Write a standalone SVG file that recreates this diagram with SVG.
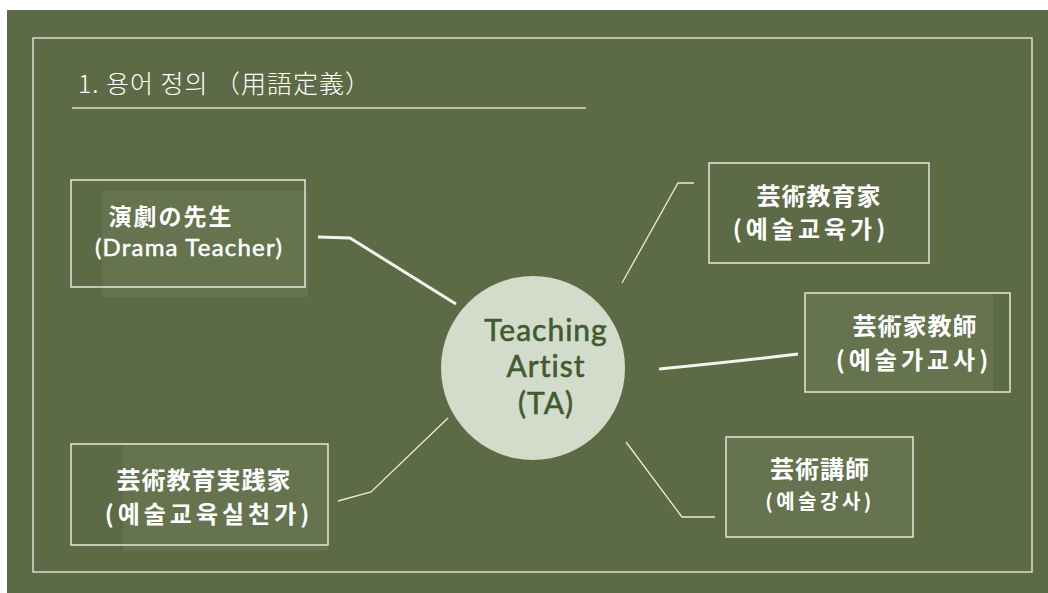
<svg xmlns="http://www.w3.org/2000/svg" width="1048" height="593" viewBox="0 0 1048 593">
<style>
.frame{fill:none;stroke:#d9dcd2;stroke-width:1.5}
.box{fill:none;stroke:#e4e6de;stroke-width:1.5}
.inner{fill:#65734f}
.lbl{font-family:"Noto Sans CJK JP","Noto Sans CJK KR",sans-serif;font-weight:700;fill:#ffffff;text-anchor:middle}
.en{font-family:Lato,"Noto Sans",sans-serif;font-weight:400;fill:#ffffff;text-anchor:middle}
.ko{letter-spacing:4px;font-size:24px}
.thin{fill:none;stroke:#e8eae0;stroke-width:1.3}
.thick{fill:none;stroke:#f4f4ec;stroke-width:3}
</style>
<rect x="0" y="0" width="1048" height="593" fill="#ffffff"/>
<rect x="7" y="10" width="1041" height="583" fill="#5d6a46"/>
<rect class="frame" x="33" y="38" width="999" height="534"/>
<g id="title">
<text x="78" y="93" font-family="Noto Sans CJK KR, sans-serif" font-weight="300" font-size="25" fill="#ffffff" textLength="292">1. 용어 정의 （用語定義）</text>
<line x1="72" y1="108" x2="586" y2="108" stroke="#d9dcd2" stroke-width="1.5"/>
</g>
<g id="connectors">
<polyline class="thick" points="318,237 350,238 456,304"/>
<polyline class="thin" points="622,283 678,183 694,183"/>
<path class="thick" d="M659,369 Q740,361 798,354"/>
<polyline class="thin" points="626,442 682,517 715,517"/>
<polyline class="thin" points="338,501 371,492 448,418"/>
</g>
<g id="center">
<circle cx="533" cy="368" r="92" fill="#d3dbcb"/>
<g font-family="Lato, sans-serif" font-size="30" letter-spacing="1" fill="#3f5c30" stroke="#3f5c30" stroke-width="0.6" text-anchor="middle">
<text x="546" y="341">Teaching</text>
<text x="546" y="377">Artist</text>
<text x="546" y="414">(TA)</text>
</g>
</g>
<g id="node-drama">
<rect class="inner" x="102" y="191" width="206" height="106"/>
<rect class="box" x="71" y="180" width="234" height="107"/>
<text class="lbl" x="171" y="225" font-size="23" letter-spacing="2">演劇の先生</text>
<text class="en" x="189" y="256" font-size="24" letter-spacing="1.2" stroke="#ffffff" stroke-width="0.5">(Drama Teacher)</text>
</g>
<g id="node-educator">
<rect class="box" x="709" y="163" width="220" height="100"/>
<text class="lbl" x="819" y="205" font-size="24" letter-spacing="1">芸術教育家</text>
<text class="lbl ko" x="811" y="238">(예술교육가)</text>
</g>
<g id="node-artist-teacher">
<rect class="inner" x="805" y="293" width="188" height="99"/>
<rect class="box" x="805" y="293" width="205" height="99"/>
<text class="lbl" x="915" y="335" font-size="24" letter-spacing="1">芸術家教師</text>
<text class="lbl ko" x="914" y="369">(예술가교사)</text>
</g>
<g id="node-lecturer">
<rect class="inner" x="726" y="437" width="187" height="100"/>
<rect class="box" x="726" y="437" width="187" height="100"/>
<text class="lbl" x="820" y="478" font-size="24" letter-spacing="1">芸術講師</text>
<text class="lbl" x="820" y="509" font-size="20" letter-spacing="3.5">(예술강사)</text>
</g>
<g id="node-practitioner">
<rect class="inner" x="123" y="444" width="205" height="107"/>
<rect class="box" x="71" y="444" width="257" height="101"/>
<text class="lbl" x="204" y="489" font-size="24" letter-spacing="1">芸術教育実践家</text>
<text class="lbl ko" x="209" y="523">(예술교육실천가)</text>
</g>
</svg>
